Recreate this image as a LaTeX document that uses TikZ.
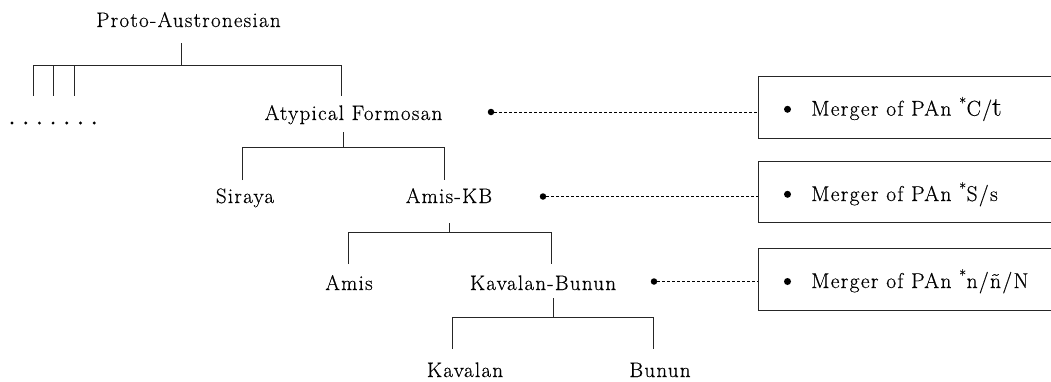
\documentclass[tikz,border=0pt]{standalone}
\usepackage{fontspec}
\setmainfont{Latin Modern Roman}[LetterSpace=6,FakeBold=0.4]
\usetikzlibrary{calc}
\begin{document}
\begin{tikzpicture}[x=1pt,y=-1pt,
  lbl/.style={font=\fontsize{21}{25}\selectfont, inner sep=0pt, anchor=base},
  btxt/.style={font=\fontsize{21.5}{25}\selectfont, inner sep=0pt, anchor=base west},
  tree/.style={line width=0.9pt, draw=black!85},
  boxs/.style={draw=black!85, line width=1.1pt, minimum width=330pt, anchor=north west, inner sep=0pt},
  dl/.style={line width=0.9pt, dash pattern=on 3pt off 2pt},
  dotn/.style={circle, fill=black, inner sep=0pt, minimum size=6.5pt},
  bul/.style={circle, fill=black, inner sep=0pt, minimum size=7pt}]
\useasboundingbox (0,0) rectangle (1051,381);
\clip (0,0) rectangle (1051,381);
% tree labels
\node[lbl] (pan) at (188.5,27) {Proto-Austronesian};
\node[lbl] (atf) at (353.5,120) {Atypical Formosan};
\node[lbl] (sir) at (245,203) {Siraya};
\node[lbl] (akb) at (449,203) {Amis-KB};
\node[lbl] (ami) at (349,290) {Amis};
\node[lbl] (kbu) at (543,290) {Kavalan-Bunun};
\node[lbl] (kav) at (465,377) {Kavalan};
\node[lbl] (bun) at (660,377) {Bunun};
% tree coordinates
\coordinate (p0) at (181,43);  \coordinate (p1) at (181,65);
\coordinate (pl) at (33,65);   \coordinate (pr) at (341,65);
\coordinate (t1) at (53,65);   \coordinate (t2) at (74,65);
\coordinate (a0) at (343,132); \coordinate (a1) at (343,147);
\coordinate (al) at (242,147); \coordinate (ar) at (444,147);
\coordinate (k0) at (449,223); \coordinate (k1) at (449,232);
\coordinate (kl) at (348,232); \coordinate (kr) at (551,232);
\coordinate (b0) at (553,298); \coordinate (b1c) at (553,317);
\coordinate (bl) at (452,317); \coordinate (br) at (653,317);
% tree lines
\draw[tree] (p0) -- (p1);
\draw[tree] ($(pl)+(0,31)$) -- (pl) -- (pr) -- ($(pr)+(0,31)$);
\draw[tree] (t1) -- ++(0,31);
\draw[tree] (t2) -- ++(0,31);
\draw[tree] (a0) -- (a1);
\draw[tree] ($(al)+(0,33)$) -- (al) -- (ar) -- ($(ar)+(0,33)$);
\draw[tree] (k0) -- (k1);
\draw[tree] ($(kl)+(0,32)$) -- (kl) -- (kr) -- ($(kr)+(0,32)$);
\draw[tree] (b0) -- (b1c);
\draw[tree] ($(bl)+(0,32)$) -- (bl) -- (br) -- ($(br)+(0,32)$);
% ellipsis dots
\foreach \i in {0,...,6} \fill (12+\i*13.7,123) circle (1.6pt);
% boxes
\node[boxs, minimum height=62pt] (bx1) at (758,76) {};
\node[boxs, minimum height=61pt] (bx2) at (758,161) {};
\node[boxs, minimum height=62pt] (bx3) at (758,248) {};
\node[bul] (bu1) at (787.5,109.3) {};
\node[bul] (bu2) at (787.5,194.3) {};
\node[bul] (bu3) at (787.5,281.5) {};
\node[btxt] (tx1) at (811,115.7) {Merger of PAn \textsuperscript{*}C/{\fontsize{27}{30}\selectfont t}};
\node[btxt] (tx2) at (811,201) {Merger of PAn \textsuperscript{*}S/s};
\node[btxt] (tx3) at (811,288) {Merger of PAn \textsuperscript{*}n/ñ/N};
% connectors
\node[dotn] (d1) at (491,112) {};
\node[dotn] (d2) at (543,196.5) {};
\node[dotn] (d3) at (654,281.5) {};
\draw[dl] (d1) -- (d1 -| bx1.west);
\draw[dl] (d2) -- (d2 -| bx2.west);
\draw[dl] (d3) -- (d3 -| bx3.west);
\end{tikzpicture}
\end{document}
